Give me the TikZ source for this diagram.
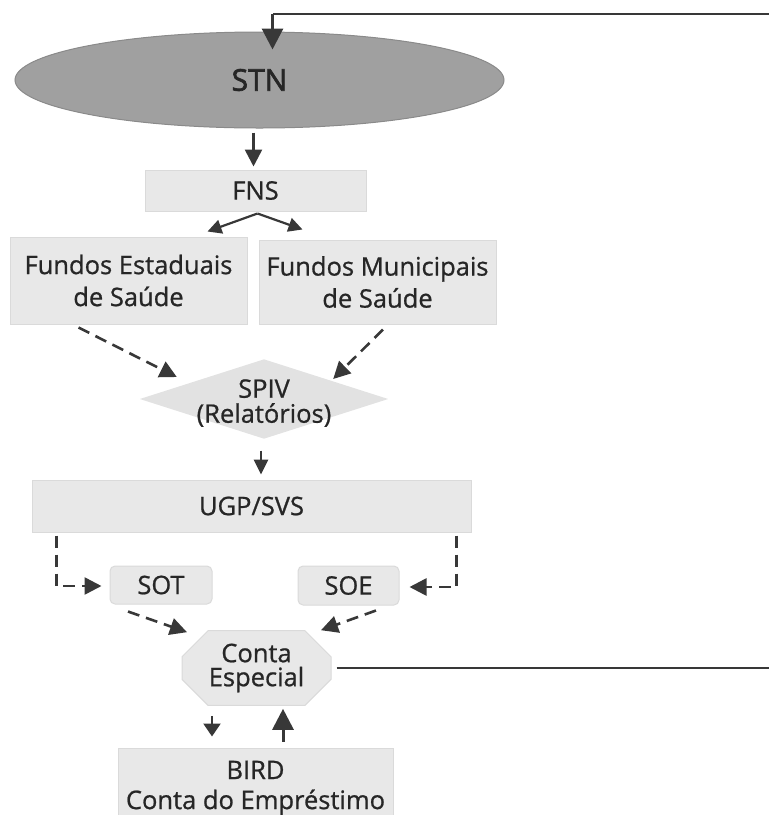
\documentclass[tikz,border=0pt]{standalone}
\usepackage{fontspec}
\setmainfont{Open Sans}[FakeBold=0.8]
\newfontfamily\stnfont{Open Sans}[FakeBold=2.2]
\usetikzlibrary{shapes.geometric,shapes.misc,arrows.meta,calc,backgrounds}
\definecolor{boxfill}{HTML}{E8E8E8}
\definecolor{boxedge}{HTML}{DADADA}
\definecolor{ellfill}{HTML}{A0A0A0}
\definecolor{elledge}{HTML}{8A8A8A}
\definecolor{dmdfill}{HTML}{E2E2E2}
\definecolor{ink}{HTML}{383838}
\definecolor{txt}{HTML}{262626}
\tikzset{
  lbl/.style={font=\fontsize{25.5}{32}\selectfont, text=txt, align=center, inner sep=0pt},
  greybox/.style={lbl, rectangle, fill=boxfill, draw=boxedge, line width=1pt},
  roundbox/.style={greybox, rounded corners=5pt},
  arr/.style={draw=ink, line width=2.6pt, -{Triangle[length=17pt,width=17pt]}},
  bigarr/.style={draw=ink, line width=3pt, -{Triangle[length=21pt,width=21pt]}},
  darr/.style={arr, dash pattern=on 12pt off 7pt},
  plain/.style={draw=ink, line width=2.4pt}
}
\begin{document}
\begin{tikzpicture}[x=1pt,y=-1pt]
\useasboundingbox (0,0) rectangle (769,815);
\clip (0,0) rectangle (769,815);
% nodes
\node[ellipse, fill=ellfill, draw=elledge, line width=1pt, minimum width=489pt, minimum height=96pt, inner sep=0pt,
      font=\stnfont\fontsize{30}{32}\selectfont, text=txt] (stn) at (259.5,80) {STN};
\node[greybox, minimum width=221pt, minimum height=41pt] (fns) at (255.5,190.5) {FNS};
\node[greybox, minimum width=237pt, minimum height=87pt] (fe) at (128.5,280.5) {Fundos Estaduais\\de Saúde};
\node[greybox, minimum width=237pt, minimum height=84pt] (fm) at (377.5,282) {Fundos Municipais\\de Saúde};
\node[lbl, font=\fontsize{25.5}{25}\selectfont, minimum width=248pt, minimum height=79pt] (spiv) at (264,403) {SPIV\\(Relatórios)};
\begin{pgfonlayer}{background}
  \fill[dmdfill] ($(spiv.west)+(0,-4)$) -- ($(spiv.north)+(0,-4)$) -- ($(spiv.east)+(0,-4)$) -- ($(spiv.south)+(0,-4)$) -- cycle;
\end{pgfonlayer}
\node[greybox, minimum width=439pt, minimum height=52pt] (ugp) at (251.5,506) {UGP/SVS};
\node[roundbox, minimum width=102pt, minimum height=38pt] (sot) at (161,585) {SOT};
\node[roundbox, minimum width=101pt, minimum height=39pt] (soe) at (348.5,585.5) {SOE};
\node[lbl, font=\fontsize{25.5}{24}\selectfont, chamfered rectangle, chamfered rectangle xsep=13pt, chamfered rectangle ysep=13pt,
      fill=boxfill, draw=boxedge, line width=1pt, minimum width=149pt, minimum height=59pt] (conta) at (256.5,668) {Conta\\Especial};
\node[greybox, font=\fontsize{25.5}{30}\selectfont, minimum width=275pt, minimum height=80pt] (bird) at (255.5,788) {BIRD\\Conta do Empréstimo};
\coordinate (topR) at (769,14);
\coordinate (midR) at (769,668);
% connectors
\draw[plain] (topR) -- (272.5,14) coordinate (topL);
\draw[bigarr] (topL) -- ($(stn.north)+(13,18)$);
\draw[arr] ($(stn.south)+(-6,4)$) -- ($(fns.north)+(-2,-3)$);
\draw[arr, line width=2.2pt, -{Triangle[length=14pt,width=14pt]}] ($(fns.south)+(2,2)$) -- ($(fe.north east)+(-40,-5)$);
\draw[arr, line width=2.2pt, -{Triangle[length=14pt,width=14pt]}] ($(fns.south)+(2,2)$) -- ($(fm.north west)+(44,-10)$);
\draw[darr] ($(fe.south)+(-50,3)$) -- ($(spiv.west)+(37,-26)$);
\draw[darr] ($(fm.south)+(5.5,5)$) -- ($(spiv.east)+(-55,-24)$);
\draw[arr, -{Triangle[length=15pt,width=14pt]}] ($(spiv.south)+(-3,8)$) -- ($(ugp.north)+(9.5,-5)$);
\draw[darr] ($(ugp.south west)+(25,3)$) |- ($(sot.west)+(-8,1)$);
\draw[darr] ($(ugp.south east)+(-15,3)$) |- ($(soe.east)+(10,1.5)$);
\draw[darr] ($(sot.south)+(-33,7)$) -- ($(conta.north)+(-69.5,2)$);
\draw[darr] ($(soe.south)+(27.5,5)$) -- ($(conta.north)+(64.5,0)$);
\draw[draw=ink, line width=2.4pt, dash pattern=on 9pt off 4pt, -{Triangle[length=13pt,width=17pt]}] ($(conta.south)+(-44.5,10)$) -- ($(bird.north)+(-43.5,-11)$);
\draw[bigarr] ($(bird.north)+(27.5,-6)$) -- ($(conta.south)+(26.5,3)$);
\draw[plain] ($(conta.east)+(5,0)$) -- (midR);
\end{tikzpicture}
\end{document}
